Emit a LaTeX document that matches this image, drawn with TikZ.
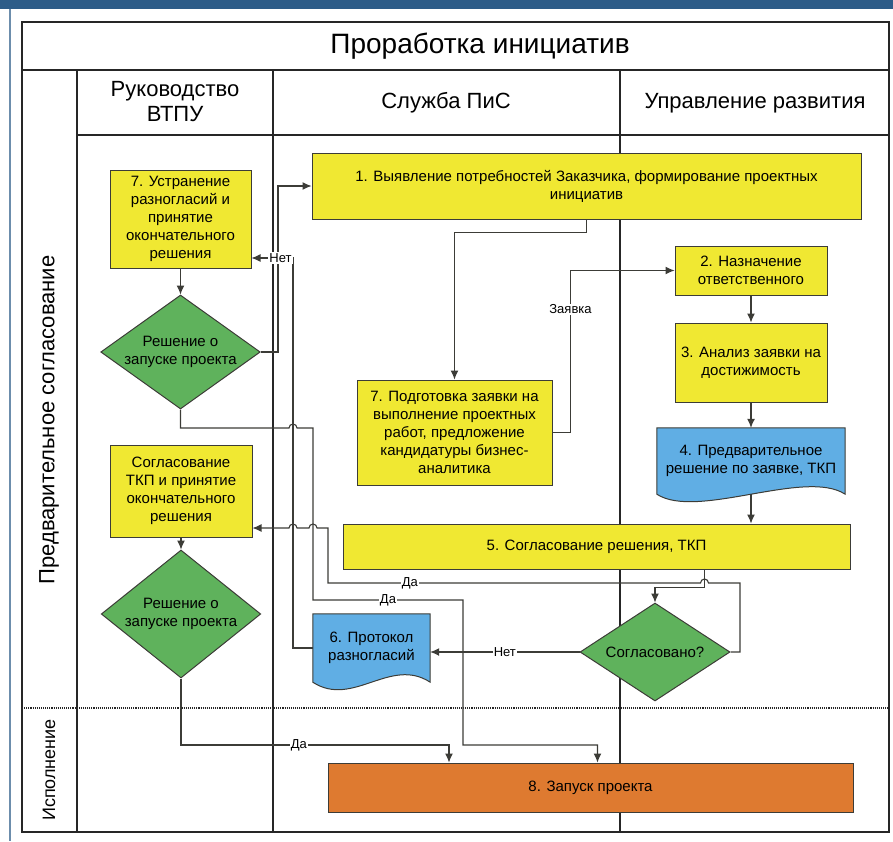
\documentclass[tikz,border=0pt]{standalone}
\usepackage{fontspec}
\setmainfont{Liberation Sans}
\usetikzlibrary{shapes.geometric,calc,backgrounds,arrows.meta}

\definecolor{framebl}{RGB}{45,92,136}
\definecolor{boxyel}{RGB}{240,232,50}
\definecolor{decgrn}{RGB}{95,178,92}
\definecolor{docblu}{RGB}{96,174,228}
\definecolor{runorg}{RGB}{222,122,48}
\definecolor{edgegr}{RGB}{60,60,55}

\tikzset{
  box/.style={draw=edgegr, line width=1pt, fill=boxyel, align=center, inner sep=2pt,
    font=\fontsize{15}{18}\selectfont},
  decision/.style={diamond, draw=edgegr, line width=1pt, fill=decgrn, align=center,
    inner sep=0pt, aspect=1.5, font=\fontsize{15}{18}\selectfont},
  docnode/.style={align=center, inner sep=2pt, font=\fontsize{15}{18}\selectfont},
  docshape/.style={draw=edgegr, line width=1pt, fill=docblu},
  arr/.style={-{Latex[length=9pt,width=8pt]}, draw=edgegr, line width=1.1pt},
  lbl/.style={fill=white, inner sep=1pt, font=\fontsize{13}{15}\selectfont},
  lane/.style={draw=black!85, line width=1.1pt},
}

\begin{document}
\begin{tikzpicture}[x=1pt, y=-1pt]
\useasboundingbox (0,0) rectangle (893,841);
% screen frame
\fill[framebl] (0,0) rectangle (893,9);
\draw[framebl!70, line width=2pt] (10,9) -- (10,841);
% table and lanes
\draw[lane] (22,22) rectangle (889,832);
\draw[lane] (22,70) -- (889,70);
\draw[lane] (77,135) -- (889,135);
\foreach \x in {77,273,620}
  \draw[lane] (\x,70) -- (\x,832);
\draw[lane, densely dotted, line width=1.6pt] (22,708) -- (889,708);

\node[font=\fontsize{28}{32}\selectfont] (title) at (480,46) {Проработка инициатив};
\node[align=center, font=\fontsize{22}{25}\selectfont] (hvtpu) at (175,102) {Руководство\\ВТПУ};
\node[font=\fontsize{22}{25}\selectfont] (hpis) at (446,103) {Служба ПиС};
\node[font=\fontsize{22}{25}\selectfont] (hupr) at (755,103) {Управление развития};
\node[rotate=90, font=\fontsize{22}{25}\selectfont] (sprel) at (49,420) {Предварительное согласование};
\node[rotate=90, font=\fontsize{18}{21}\selectfont] (sexe) at (49,770) {Исполнение};

% Руководство ВТПУ
\node[box, minimum width=141pt, minimum height=98pt] (ustr) at (180.5,219)
  {7. Устранение\\разногласий и\\принятие\\окончательного\\решения};
\node[decision, minimum width=155pt, minimum height=114pt] (reshA) at (180.5,352)
  {Решение о\\запуске проекта};
\node[box, minimum width=142pt, minimum height=92pt] (soglTKP) at (181,491)
  {Согласование\\ТКП и принятие\\окончательного\\решения};
\node[decision, minimum width=155pt, minimum height=128pt] (reshB) at (181,614)
  {Решение о\\запуске проекта};
% Служба ПиС
\node[box, minimum width=549pt, minimum height=66pt] (vyjav) at (586.5,186)
  {1. Выявление потребностей Заказчика, формирование проектных\\инициатив};
\node[box, minimum width=195pt, minimum height=105pt] (podg) at (454.5,432.5)
  {7. Подготовка заявки на\\выполнение проектных\\работ, предложение\\кандидатуры бизнес-\\аналитика};
\node[box, minimum width=507pt, minimum height=45pt] (soglR) at (596.5,546.5)
  {5. Согласование решения, ТКП};
\node[docnode, minimum width=117pt, minimum height=68pt] (protok) at (371.5,648)
  {6. Протокол\\разногласий};
% Управление развития
\node[box, minimum width=152pt, minimum height=49pt] (naznach) at (751,270.5)
  {2. Назначение\\ответственного};
\node[box, minimum width=152pt, minimum height=79pt] (analiz) at (751,362.5)
  {3. Анализ заявки на\\достижимость};
\node[docnode, minimum width=188pt, minimum height=66pt] (predv) at (751,461)
  {4. Предварительное\\решение по заявке, ТКП};
\node[decision, minimum width=150pt, minimum height=98pt] (soglQ) at (655,652)
  {Согласовано?};
% Исполнение
\node[box, fill=runorg, minimum width=525pt, minimum height=49pt] (zapusk) at (590.5,787.5)
  {8. Запуск проекта};

\begin{scope}[on background layer]
  \foreach \d in {predv,protok}
    \draw[docshape] (\d.north west) -- (\d.north east) -- (\d.south east)
      .. controls +(-40pt,26pt) and +(40pt,-26pt) .. (\d.south west) -- cycle;
\end{scope}

% connections
\draw[arr] (ustr.south) -- (reshA.north);
\draw[arr] (soglTKP.south) -- (reshB.north);
\draw[arr] (reshA.east) -- (278,352) |- (vyjav.west);
\draw[arr] (vyjav.south) -- ++(0,13) -| (podg.north);
\draw[arr] (podg.east) -- ++(18,0) |- node[lbl, pos=0.38]{Заявка} (naznach.west);
\draw[arr] (naznach.south) -- (analiz.north);
\draw[arr] (analiz.south) -- (predv.north);
\draw[arr] (predv.south) -- (predv.south |- soglR.north);
\draw[arr] ([xshift=108pt]soglR.south) -- ++(0,18) -| (soglQ.north);
\draw[arr] (soglQ.east) -- (740,652) -- (740,583) -- (708.5,583)
  arc[start angle=0, end angle=180, radius=4pt] -- node[lbl, pos=0.78]{Да} (328,583) -- (328,528)
  -- (317,528) arc[start angle=0, end angle=180, radius=4pt]
  -- (297,528) arc[start angle=0, end angle=180, radius=4pt]
  -- ([yshift=-37pt]soglTKP.east);
\draw[arr] (reshA.south) |- (289,428) arc[start angle=180, end angle=0, radius=4pt]
  -- (313,428) -- (313,600) -- node[lbl]{Да} (463,600) -- (463,745) -| ([xshift=7pt]zapusk.north);
\coordinate (nodaB) at (449,745);
\draw[arr] (reshB.south) |- node[lbl, pos=0.72]{Да} (nodaB) -- (nodaB |- zapusk.north);
\draw[arr] (soglQ.west) -- node[lbl]{Нет} (soglQ.west -| protok.east);
\draw[arr] (protok.west) -- (293,648) -- (293,258) -- node[lbl, pos=0.3]{Нет} ([yshift=-39pt]ustr.east);
\end{tikzpicture}
\end{document}
